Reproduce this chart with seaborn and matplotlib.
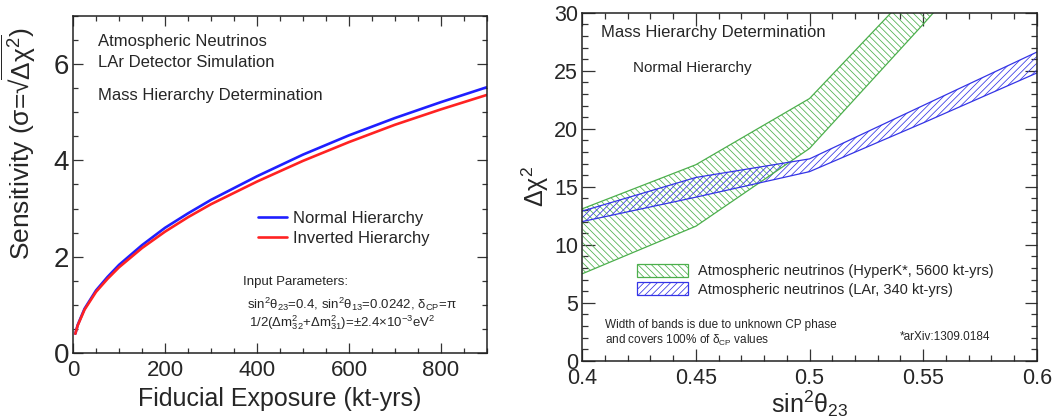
import numpy as np
import pandas as pd
import matplotlib
matplotlib.use('Agg')
import matplotlib.pyplot as plt
import seaborn as sns
from matplotlib.patches import Patch
from matplotlib.ticker import MultipleLocator

# ---------------- data ----------------
exposure = [5, 10, 25, 50, 75, 100, 150, 200, 250, 300, 400, 500, 600, 700, 800, 900]
sens_normal = [0.40, 0.58, 0.92, 1.30, 1.58, 1.83, 2.24, 2.60, 2.90, 3.18, 3.67, 4.12, 4.52, 4.88, 5.21, 5.52]
sens_inverted = [0.40, 0.57, 0.90, 1.27, 1.54, 1.78, 2.18, 2.52, 2.82, 3.09, 3.56, 3.99, 4.38, 4.74, 5.06, 5.36]
hier_labels = ['Normal Hierarchy', 'Inverted Hierarchy']

sin2_theta23 = [0.40, 0.45, 0.50, 0.55, 0.60]
hyperk_low = [7.5, 11.6, 18.3, 29.0, 40.0]
hyperk_high = [13.1, 16.9, 22.6, 32.9, 44.0]
lar_low = [12.0, 14.1, 16.3, 20.5, 24.8]
lar_high = [12.9, 15.8, 17.4, 22.0, 26.6]
band_labels = ['Atmospheric neutrinos (HyperK*, 5600 kt-yrs)',
               'Atmospheric neutrinos (LAr, 340 kt-yrs)']

# ---------------- style ----------------
sns.set_theme(style='ticks')
plt.rcParams['font.family'] = ['Liberation Sans', 'DejaVu Sans']
plt.rcParams['mathtext.fontset'] = 'custom'
plt.rcParams['mathtext.rm'] = 'Liberation Sans'
plt.rcParams['mathtext.it'] = 'Liberation Sans:italic'
plt.rcParams['mathtext.default'] = 'regular'
plt.rcParams['hatch.linewidth'] = 0.55
plt.rcParams['axes.edgecolor'] = '#222222'
plt.rcParams['axes.linewidth'] = 1.1

BLUE = '#1f1fff'
RED = '#ff2222'
GREEN = '#4caf4c'
BAND_BLUE = '#3434e6'
HATCH_GREEN = '\\' * 5
HATCH_BLUE = '/' * 5

fig = plt.figure(figsize=(10.54, 4.19), dpi=100)
ax1 = fig.add_axes([0.0693, 0.1575, 0.3927, 0.8045])
ax2 = fig.add_axes([0.5525, 0.139, 0.4311, 0.8307])

# ---------------- left panel ----------------
n = len(exposure)
df = pd.DataFrame({
    'exposure': exposure * 2,
    'sens': sens_normal + sens_inverted,
    'hier': [hier_labels[0]] * n + [hier_labels[1]] * n,
})
sns.lineplot(data=df, x='exposure', y='sens', hue='hier',
             palette={hier_labels[0]: BLUE, hier_labels[1]: RED},
             linewidth=1.9, ax=ax1)
ax1.set_xlim(0, 900)
ax1.set_ylim(0, 7)
ax1.xaxis.set_major_locator(MultipleLocator(200))
ax1.xaxis.set_minor_locator(MultipleLocator(50))
ax1.yaxis.set_major_locator(MultipleLocator(2))
ax1.yaxis.set_minor_locator(MultipleLocator(0.5))
ax1.tick_params(which='both', direction='in', top=True, right=True, color='#333333')
ax1.tick_params(which='major', length=7, width=0.9)
ax1.tick_params(which='minor', length=3.5, width=0.9)
ax1.tick_params(axis='x', labelsize=16, pad=5)
ax1.tick_params(axis='y', labelsize=20, pad=3)
ax1.set_xlabel('Fiducial Exposure (kt-yrs)', fontsize=18)
ax1.set_ylabel('Sensitivity (\u03c3=\u221a' + r'$\overline{\Delta\chi^{2}}$)', fontsize=19)
ax1.yaxis.set_label_coords(-0.085, 0.62)

handles, labels = ax1.get_legend_handles_labels()
ax1.legend(handles, labels, loc='upper left', bbox_to_anchor=(0.447, 0.421),
           frameon=False, fontsize=12, handlelength=1.75, handletextpad=0.36,
           borderaxespad=0, borderpad=0, labelspacing=0.3)

ax1.text(0.060, 0.923, 'Atmospheric Neutrinos', transform=ax1.transAxes,
         fontsize=12, va='center', ha='left')
ax1.text(0.060, 0.861, 'LAr Detector Simulation', transform=ax1.transAxes,
         fontsize=12, va='center', ha='left')
ax1.text(0.060, 0.763, 'Mass Hierarchy Determination', transform=ax1.transAxes,
         fontsize=12, va='center', ha='left')
ax1.text(0.411, 0.2116, 'Input Parameters:', transform=ax1.transAxes,
         fontsize=9.5, va='center', ha='left')
ax1.text(0.420, 0.1454,
         r'sin$^{2}\theta_{23}$=0.4, sin$^{2}\theta_{13}$=0.0242, $\delta_{CP}$=$\pi$',
         transform=ax1.transAxes, fontsize=9.5, va='center', ha='left')
ax1.text(0.425, 0.089,
         r'1/2($\Delta$m$^{2}_{32}$+$\Delta$m$^{2}_{31}$)=$\pm$2.4$\times$10$^{-3}$eV$^{2}$',
         transform=ax1.transAxes, fontsize=9.5, va='center', ha='left')

# ---------------- right panel ----------------
ax2.fill_between(sin2_theta23, hyperk_low, hyperk_high, facecolor='none',
                 edgecolor=GREEN, hatch=HATCH_GREEN, linewidth=0)
ax2.fill_between(sin2_theta23, lar_low, lar_high, facecolor='none',
                 edgecolor=BAND_BLUE, hatch=HATCH_BLUE, linewidth=0)
for lo, hi, col in [(hyperk_low, hyperk_high, GREEN), (lar_low, lar_high, BAND_BLUE)]:
    sns.lineplot(x=sin2_theta23, y=lo, color=col, linewidth=0.9, ax=ax2)
    sns.lineplot(x=sin2_theta23, y=hi, color=col, linewidth=0.9, ax=ax2)

ax2.set_xlim(0.4, 0.6)
ax2.set_ylim(0, 30)
ax2.xaxis.set_major_locator(MultipleLocator(0.05))
ax2.xaxis.set_minor_locator(MultipleLocator(0.01))
ax2.yaxis.set_major_locator(MultipleLocator(5))
ax2.yaxis.set_minor_locator(MultipleLocator(1))
ax2.set_xticks([0.4, 0.45, 0.5, 0.55, 0.6])
ax2.set_xticklabels(['0.4', '0.45', '0.5', '0.55', '0.6'])
ax2.tick_params(which='both', direction='in', top=True, right=True, color='#333333')
ax2.tick_params(which='major', length=9, width=0.9)
ax2.tick_params(which='minor', length=4.5, width=0.9)
ax2.tick_params(axis='both', labelsize=15.5)
ax2.tick_params(axis='x', pad=5)
ax2.tick_params(axis='y', pad=3)
ax2.set_xlabel(r'sin$^{2}\theta_{23}$', fontsize=18, labelpad=0)
ax2.set_ylabel(r'$\Delta\chi^{2}$', fontsize=18, labelpad=2)

band_handles = [
    Patch(facecolor='none', edgecolor=GREEN, hatch=HATCH_GREEN, linewidth=0.9),
    Patch(facecolor='none', edgecolor=BAND_BLUE, hatch=HATCH_BLUE, linewidth=0.9),
]
ax2.legend(band_handles, band_labels, loc='upper left', bbox_to_anchor=(0.1197, 0.279),
           frameon=False, fontsize=10.5, handlelength=3.53, handleheight=1.0,
           handletextpad=0.68, borderaxespad=0, borderpad=0, labelspacing=0.29)

ax2.text(0.0405, 0.9445, 'Mass Hierarchy Determination', transform=ax2.transAxes,
         fontsize=12, va='center', ha='left')
ax2.text(0.111, 0.841, 'Normal Hierarchy', transform=ax2.transAxes,
         fontsize=11, va='center', ha='left')
ax2.text(0.05, 0.1026, 'Width of bands is due to unknown CP phase', transform=ax2.transAxes,
         fontsize=8.5, va='center', ha='left')
ax2.text(0.05, 0.059, r'and covers 100% of $\delta_{CP}$ values', transform=ax2.transAxes,
         fontsize=8.5, va='center', ha='left')
ax2.text(0.699, 0.068, '*arXiv:1309.0184', transform=ax2.transAxes,
         fontsize=8.5, va='center', ha='left')

fig.savefig('out.png', dpi=100)
